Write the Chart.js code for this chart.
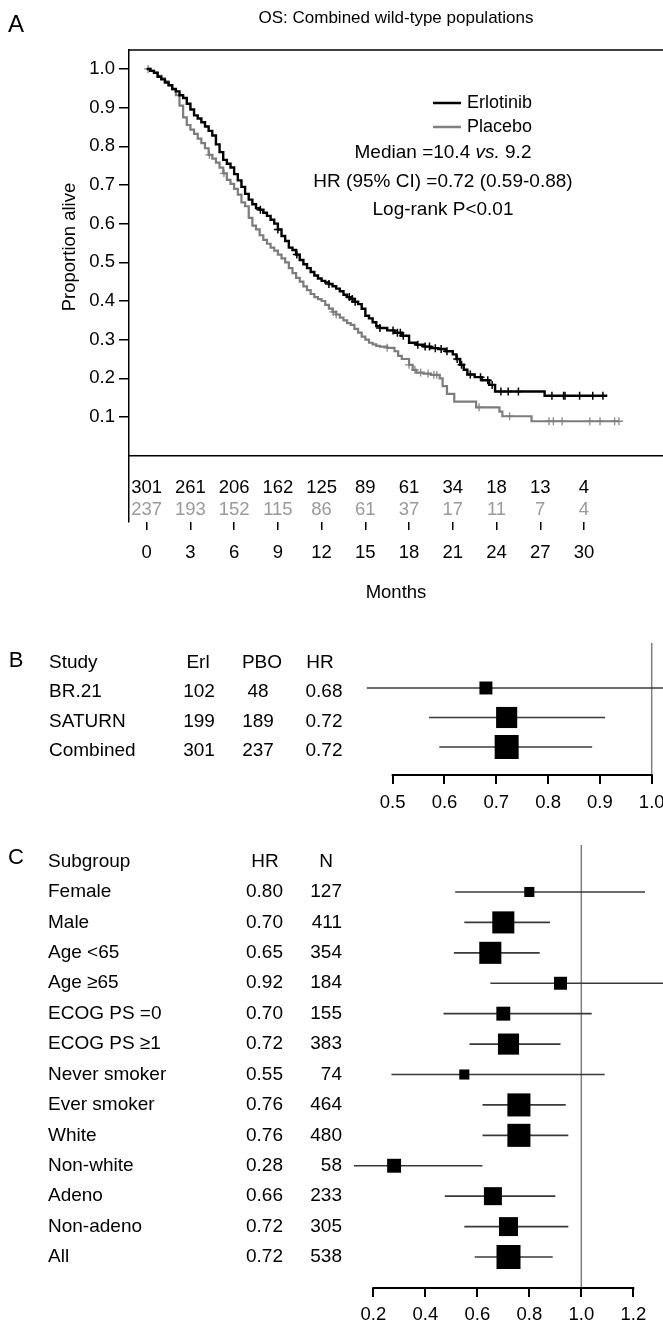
<!DOCTYPE html>
<html>
<head>
<meta charset="utf-8">
<script src="https://cdn.jsdelivr.net/npm/chart.js@4.4.0/dist/chart.umd.min.js"></script>
<style>
  body { margin: 0; width: 663px; height: 1328px; overflow: hidden; background: #fff; position: relative; }
  canvas { position: absolute; left: 0; }
  #km { top: 0; }
  #study { top: 630px; }
  #sub { top: 830px; }
</style>
</head>
<body>
<canvas id="km" width="663" height="615"></canvas>
<canvas id="study" width="663" height="185"></canvas>
<canvas id="sub" width="663" height="498"></canvas>
<script>
const FAM = '"Liberation Sans", Arial, sans-serif';

// ---- panel A: Kaplan-Meier ----
const monthTicks = [0, 3, 6, 9, 12, 15, 18, 21, 24, 27, 30];
const survTicks = [0.1, 0.2, 0.3, 0.4, 0.5, 0.6, 0.7, 0.8, 0.9, 1.0];
const atRiskErl = [301, 261, 206, 162, 125, 89, 61, 34, 18, 13, 4];
const atRiskPbo = [237, 193, 152, 115, 86, 61, 37, 17, 11, 7, 4];

const erlTimes = [0, 0.25, 0.5, 0.75, 1, 1.25, 1.5, 1.75, 2, 2.25, 2.5, 2.75, 3, 3.25, 3.5, 3.75,
  4, 4.25, 4.5, 4.75, 5, 5.25, 5.5, 5.75, 6, 6.25, 6.5, 6.75, 7, 7.25, 7.5, 7.75,
  8, 8.25, 8.5, 8.75, 9, 9.25, 9.5, 9.75, 10, 10.25, 10.5, 10.75, 11, 11.25, 11.5, 11.75,
  12, 12.25, 12.5, 12.75, 13, 13.25, 13.5, 13.75, 14, 14.25, 14.5, 14.75, 15, 15.25, 15.5, 15.75,
  16, 16.5, 17, 17.5, 18, 18.5, 19, 19.5, 20, 20.5, 21, 21.25, 21.5, 21.75, 22, 22.5, 23, 23.5, 23.9, 27.3, 31.6];
const erlSurv = [1, 0.995, 0.99, 0.98, 0.973, 0.965, 0.958, 0.948, 0.942, 0.932, 0.925, 0.91, 0.895, 0.88, 0.872, 0.862,
  0.851, 0.84, 0.828, 0.805, 0.785, 0.765, 0.755, 0.745, 0.728, 0.712, 0.695, 0.677, 0.662, 0.65, 0.64, 0.636,
  0.628, 0.62, 0.61, 0.6, 0.585, 0.568, 0.555, 0.538, 0.532, 0.52, 0.506, 0.495, 0.485, 0.475, 0.466, 0.458,
  0.452, 0.448, 0.444, 0.438, 0.432, 0.425, 0.416, 0.41, 0.405, 0.398, 0.392, 0.38, 0.362, 0.355, 0.345, 0.335,
  0.33, 0.324, 0.318, 0.31, 0.292, 0.287, 0.282, 0.278, 0.276, 0.27, 0.262, 0.25, 0.235, 0.222, 0.21, 0.203, 0.195, 0.183, 0.166, 0.155, 0.155];

const pboTimes = [0, 0.25, 0.5, 0.75, 1, 1.25, 1.5, 1.75, 2, 2.25, 2.5, 2.75, 3, 3.25, 3.5, 3.75,
  4, 4.25, 4.5, 4.75, 5, 5.25, 5.5, 5.75, 6, 6.25, 6.5, 6.75, 7, 7.25, 7.5, 7.75,
  8, 8.25, 8.5, 8.75, 9, 9.25, 9.5, 9.75, 10, 10.25, 10.5, 10.75, 11, 11.25, 11.5, 11.75,
  12, 12.25, 12.5, 12.75, 13, 13.25, 13.5, 13.75, 14, 14.25, 14.5, 14.75, 15, 15.25, 15.5, 15.75,
  16, 16.5, 17, 17.25, 17.5, 18, 18.25, 18.5, 19, 19.5, 20.1, 20.3, 20.6, 21.1, 22.6, 24.2, 24.4, 26.4, 32.4];
const pboSurv = [1, 0.995, 0.99, 0.982, 0.976, 0.968, 0.958, 0.948, 0.932, 0.905, 0.875, 0.855, 0.843, 0.832, 0.82, 0.808,
  0.795, 0.778, 0.768, 0.758, 0.745, 0.73, 0.713, 0.703, 0.69, 0.675, 0.655, 0.645, 0.615, 0.595, 0.585, 0.57,
  0.558, 0.548, 0.538, 0.53, 0.52, 0.51, 0.5, 0.485, 0.472, 0.46, 0.45, 0.438, 0.428, 0.418, 0.41, 0.405,
  0.4, 0.39, 0.38, 0.372, 0.365, 0.357, 0.35, 0.343, 0.338, 0.328, 0.318, 0.308, 0.3, 0.292, 0.288, 0.284,
  0.282, 0.279, 0.27, 0.258, 0.25, 0.235, 0.222, 0.215, 0.212, 0.209, 0.2, 0.18, 0.16, 0.14, 0.125, 0.114, 0.102, 0.089, 0.089];

const erlCensor = [7.8, 9.0, 10.3, 12.5, 13.9, 14.1, 14.3, 16.0, 16.9, 17.2, 17.4, 17.6, 18.6, 19.1, 19.4, 19.8,
  20.2, 20.6, 21.3, 21.6, 22.2, 22.9, 23.4, 23.7, 24.3, 24.8, 25.5, 27.8, 28.6, 28.7, 29.7, 30.6, 31.3];
const pboCensor = [0.1, 4.3, 5.3, 12.8, 13.0, 16.5, 18.0, 18.4, 18.8, 19.3, 19.7, 19.9, 22.8, 24.9, 27.6, 27.9,
  28.5, 30.4, 31.1, 32.1, 32.4];

const medianErl = 10.4, medianPbo = 9.2;
const hrAll = '0.72 (0.59-0.88)';
const logRank = 'P<0.01';

// ---- panel B: by study ----
const studies = ['BR.21', 'SATURN', 'Combined'];
const studyErl = [102, 199, 301];
const studyPbo = [48, 189, 237];
const studyHr = [0.68, 0.72, 0.72];
const studyLo = [0.45, 0.57, 0.59];
const studyHi = [1.08, 0.91, 0.885];
const studyWeight = [0.54, 0.88, 1.0];
const studyTicks = [0.5, 0.6, 0.7, 0.8, 0.9, 1.0];

// ---- panel C: subgroups ----
const subgroups = ['Female', 'Male', 'Age <65', 'Age \u226565', 'ECOG PS =0', 'ECOG PS \u22651', 'Never smoker',
  'Ever smoker', 'White', 'Non-white', 'Adeno', 'Non-adeno', 'All'];
const subHr = [0.80, 0.70, 0.65, 0.92, 0.70, 0.72, 0.55, 0.76, 0.76, 0.28, 0.66, 0.72, 0.72];
const subN = [127, 411, 354, 184, 155, 383, 74, 464, 480, 58, 233, 305, 538];
const subLo = [0.515, 0.55, 0.51, 0.65, 0.47, 0.57, 0.27, 0.62, 0.62, 0.125, 0.475, 0.55, 0.59];
const subHi = [1.245, 0.88, 0.84, 1.33, 1.04, 0.92, 1.09, 0.94, 0.95, 0.62, 0.90, 0.95, 0.89];
const subWeight = [0.42, 0.92, 0.92, 0.54, 0.58, 0.88, 0.42, 0.96, 0.96, 0.58, 0.75, 0.79, 1.0];
const subTicks = [0.2, 0.4, 0.6, 0.8, 1.0, 1.2];

Chart.defaults.font.family = FAM;
Chart.defaults.font.size = 18.5;
Chart.defaults.color = '#000';

function survAt(times, surv, t) {
  let s = surv[0];
  times.forEach((tt, i) => { if (tt <= t) s = surv[i]; });
  return s;
}

// keep the chart area exactly where the layout padding puts it
function noEdgePadding(s) {
  s.paddingLeft = 0;
  s.paddingRight = 0;
  s.paddingTop = 0;
  s.paddingBottom = 0;
}

const kmDecor = {
  id: 'kmDecor',
  afterDraw(chart) {
    const { ctx, chartArea: a, scales: { x, y } } = chart;
    const y0 = y.getPixelForValue(0);
    ctx.save();
    ctx.strokeStyle = '#000';
    ctx.lineWidth = 1.5;
    ctx.beginPath();
    ctx.moveTo(a.left, a.top); ctx.lineTo(a.right, a.top);
    ctx.moveTo(a.left, y0); ctx.lineTo(a.right, y0);
    ctx.stroke();

    // numbers at risk
    ctx.font = '18.5px ' + FAM;
    ctx.textAlign = 'center';
    ctx.textBaseline = 'middle';
    monthTicks.forEach((m, i) => {
      const px = x.getPixelForValue(m);
      ctx.fillStyle = '#000';
      ctx.fillText(atRiskErl[i], px, y0 + 32);
      ctx.fillStyle = '#9a9a9a';
      ctx.fillText(atRiskPbo[i], px, y0 + 54);
    });

    ctx.fillStyle = '#000';
    ctx.font = '24px ' + FAM;
    ctx.fillText('A', 16, 25);
    ctx.font = '17px ' + FAM;
    ctx.fillText('OS: Combined wild-type populations', 396, 18);

    ctx.save();
    ctx.translate(70, 247);
    ctx.rotate(-Math.PI / 2);
    ctx.font = '18.5px ' + FAM;
    ctx.fillText('Proportion alive', 0, 0);
    ctx.restore();

    // legend
    ctx.lineWidth = 2.5;
    ctx.strokeStyle = '#000';
    ctx.beginPath(); ctx.moveTo(433, 103); ctx.lineTo(461, 103); ctx.stroke();
    ctx.strokeStyle = '#808080';
    ctx.beginPath(); ctx.moveTo(433, 127); ctx.lineTo(461, 127); ctx.stroke();
    ctx.font = '18px ' + FAM;
    ctx.textAlign = 'left';
    ctx.fillText('Erlotinib', 467, 103);
    ctx.fillText('Placebo', 467, 127);

    // annotations
    const parts = [['Median =' + medianErl + ' ', ''], ['vs.', 'italic '], [' ' + medianPbo, '']];
    let w = 0;
    parts.forEach(p => { ctx.font = p[1] + '19px ' + FAM; w += ctx.measureText(p[0]).width; });
    let px = 443 - w / 2;
    parts.forEach(p => {
      ctx.font = p[1] + '19px ' + FAM;
      ctx.fillText(p[0], px, 153);
      px += ctx.measureText(p[0]).width;
    });
    ctx.font = '19px ' + FAM;
    ctx.textAlign = 'center';
    ctx.fillText('HR (95% CI) =' + hrAll, 443, 182);
    ctx.fillText('Log-rank ' + logRank, 443, 210);
    ctx.restore();
  }
};

new Chart(document.getElementById('km'), {
  type: 'scatter',
  data: {
    datasets: [
      {
        type: 'line', label: 'Erlotinib',
        data: erlTimes.map((t, i) => ({ x: t, y: erlSurv[i] })),
        stepped: true, borderColor: '#000', borderWidth: 2.4, pointRadius: 0
      },
      {
        label: 'Erlotinib censored',
        data: erlCensor.map(t => ({ x: t, y: survAt(erlTimes, erlSurv, t) })),
        pointStyle: 'cross', pointRadius: 4, borderColor: '#000', borderWidth: 1.5
      },
      {
        type: 'line', label: 'Placebo',
        data: pboTimes.map((t, i) => ({ x: t, y: pboSurv[i] })),
        stepped: true, borderColor: '#7c7c7c', borderWidth: 2.2, pointRadius: 0
      },
      {
        label: 'Placebo censored',
        data: pboCensor.map(t => ({ x: t, y: survAt(pboTimes, pboSurv, t) })),
        pointStyle: 'cross', pointRadius: 4, borderColor: '#8a8a8a', borderWidth: 1.3
      }
    ]
  },
  options: {
    responsive: false,
    animation: false,
    events: [],
    layout: { autoPadding: false, padding: { top: 50, left: 0, right: 0, bottom: 0 } },
    plugins: { legend: { display: false }, tooltip: { enabled: false } },
    scales: {
      x: {
        min: -1.214, max: 35.42,
        border: { display: false },
        grid: { drawOnChartArea: false, tickLength: 8, color: '#000', lineWidth: 1.5 },
        ticks: { padding: 12, callback: v => String(v) },
        afterBuildTicks: s => { s.ticks = monthTicks.map(v => ({ value: v })); },
        afterFit: s => { s.height = 93; noEdgePadding(s); },
        title: { display: true, text: 'Months', padding: { bottom: 11 }, font: { size: 18.5 } }
      },
      y: {
        min: -0.1715, max: 1.049,
        border: { color: '#000', width: 1.5 },
        grid: { drawOnChartArea: false, tickLength: 10, color: '#000', lineWidth: 1.5 },
        ticks: { padding: 4, callback: v => v.toFixed(1) },
        afterBuildTicks: s => { s.ticks = survTicks.map(v => ({ value: v })); },
        afterFit: s => { s.width = 129; noEdgePadding(s); }
      }
    }
  },
  plugins: [kmDecor]
});

function forestChart(id, hr, lo, hi, weight, ticks, box, drawTable) {
  const datasets = [{
    data: hr.map((v, i) => ({ x: v, y: i })),
    pointStyle: 'rect',
    pointRadius: weight.map(w => w * 24 * Math.SQRT1_2),
    backgroundColor: '#000',
    borderWidth: 0
  }];
  hr.forEach((v, i) => {
    datasets.push({
      type: 'line',
      data: [{ x: lo[i], y: i }, { x: hi[i], y: i }],
      borderColor: '#3a3a3a', borderWidth: 1.6, pointRadius: 0
    });
  });
  return new Chart(document.getElementById(id), {
    type: 'scatter',
    data: { datasets },
    options: {
      responsive: false,
      animation: false,
      events: [],
      layout: { autoPadding: false, padding: { left: box.left, top: box.top, right: 0, bottom: 0 } },
      plugins: { legend: { display: false }, tooltip: { enabled: false } },
      scales: {
        x: {
          min: box.xMin, max: box.xMax,
          border: { display: false },
          grid: { drawOnChartArea: false, tickLength: 9, color: '#000', lineWidth: 2 },
          ticks: { padding: box.tickPad, callback: v => v.toFixed(1) },
          afterBuildTicks: s => { s.ticks = ticks.map(v => ({ value: v })); },
          afterFit: s => { s.height = box.axisH; noEdgePadding(s); }
        },
        y: { display: false, reverse: true, min: box.yMin, max: box.yMax }
      }
    },
    plugins: [{
      id: 'forestDecor',
      beforeDatasetsDraw(chart) {
        const { ctx, chartArea: a, scales: { x } } = chart;
        const rx = x.getPixelForValue(1);
        ctx.save();
        ctx.strokeStyle = '#808080';
        ctx.lineWidth = 1.5;
        ctx.beginPath(); ctx.moveTo(rx, a.top); ctx.lineTo(rx, a.bottom); ctx.stroke();
        ctx.restore();
      },
      afterDraw(chart) {
        const { ctx, chartArea: a, scales: { x, y } } = chart;
        ctx.save();
        ctx.strokeStyle = '#000';
        ctx.lineWidth = 2;
        ctx.beginPath();
        ctx.moveTo(x.getPixelForValue(ticks[0]) - 1, a.bottom);
        ctx.lineTo(x.getPixelForValue(ticks[ticks.length - 1]) + 1, a.bottom);
        ctx.stroke();
        ctx.fillStyle = '#000';
        ctx.textBaseline = 'middle';
        drawTable(ctx, i => y.getPixelForValue(i));
        ctx.restore();
      }
    }]
  });
}

forestChart('study', studyHr, studyLo, studyHi, studyWeight, studyTicks,
  { left: 340, top: 13, xMin: 0.3983, xMax: 1.0218, yMin: -1.525, yMax: 2.949, axisH: 40, tickPad: 8 },
  (ctx, rowY) => {
    const hy = rowY(-1) + 4;
    ctx.font = '22px ' + FAM;
    ctx.textAlign = 'center';
    ctx.fillText('B', 16, hy - 2);
    ctx.font = '19px ' + FAM;
    ctx.textAlign = 'left';
    ctx.fillText('Study', 49, hy);
    ctx.textAlign = 'center';
    ctx.fillText('Erl', 198, hy);
    ctx.fillText('PBO', 262, hy);
    ctx.fillText('HR', 320, hy);
    studies.forEach((s, i) => {
      const ty = rowY(i) + 4;
      ctx.textAlign = 'left';
      ctx.fillText(s, 49, ty);
      ctx.textAlign = 'center';
      ctx.fillText(studyErl[i], 199, ty);
      ctx.fillText(studyPbo[i], 258, ty);
      ctx.fillText(studyHr[i].toFixed(2), 324, ty);
    });
  });

forestChart('sub', subHr, subLo, subHi, subWeight, subTicks,
  { left: 340, top: 15, xMin: 0.0719, xMax: 1.3142, yMin: -1.545, yMax: 13.019, axisH: 40, tickPad: 7 },
  (ctx, rowY) => {
    const hy = rowY(-1);
    ctx.font = '22px ' + FAM;
    ctx.textAlign = 'center';
    ctx.fillText('C', 16, hy - 4);
    ctx.font = '19px ' + FAM;
    ctx.textAlign = 'left';
    ctx.fillText('Subgroup', 48, hy);
    ctx.textAlign = 'center';
    ctx.fillText('HR', 265, hy);
    ctx.fillText('N', 326, hy);
    subgroups.forEach((s, i) => {
      const ty = rowY(i);
      ctx.textAlign = 'left';
      ctx.fillText(s, 48, ty);
      ctx.textAlign = 'right';
      ctx.fillText(subHr[i].toFixed(2), 283, ty);
      ctx.fillText(subN[i], 342, ty);
    });
  });
</script>
</body>
</html>
